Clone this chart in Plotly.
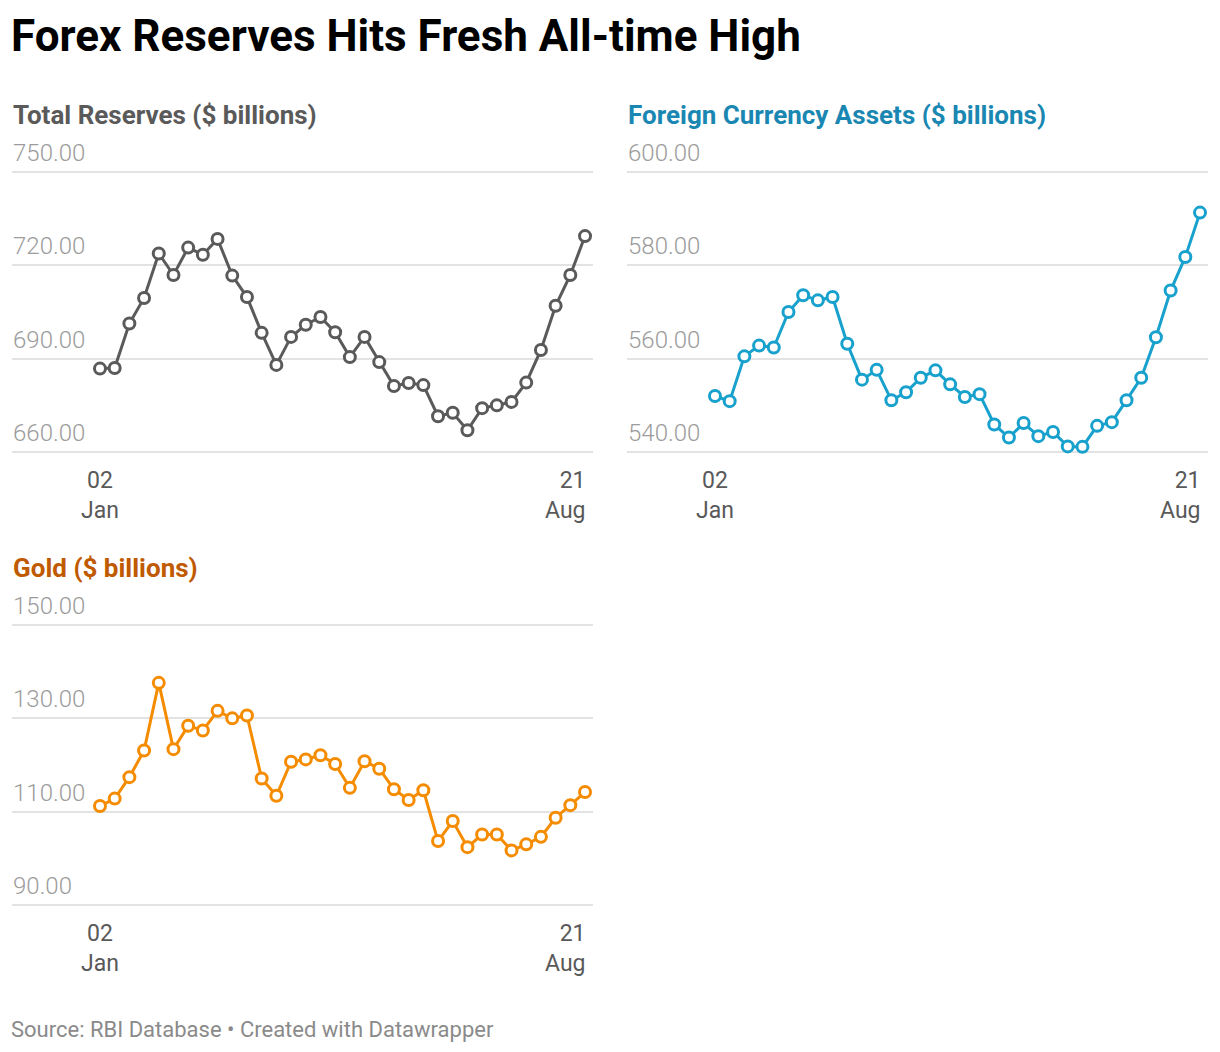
import pandas as pd
import plotly.graph_objects as go

# the page puts an 8px margin around the plot, so work in reference px and shift
OFF = 8
FW, FH = 1220 - 2 * OFF, 1052 - 2 * OFF


def px_x(p):
    return (p - OFF) / FW


def px_y(p):
    return 1 - (p - OFF) / FH


# weekly observations, 02 Jan to 21 Aug
dates = pd.date_range("2026-01-02", "2026-08-21", freq="7D")

total_reserves = [686.8, 687.0, 701.3, 709.5, 723.8, 716.9, 725.7, 723.4, 728.5, 716.7,
                  709.8, 698.3, 688.0, 697.0, 700.9, 703.4, 698.5, 690.5, 697.0, 688.9,
                  681.2, 682.2, 681.5, 671.5, 672.6, 667.0, 674.1, 675.0, 676.1, 682.3,
                  692.8, 707.0, 716.9, 729.4]
fca = [552.0, 550.9, 560.5, 562.8, 562.4, 570.0, 573.6, 572.5, 573.2, 563.2,
       555.5, 557.6, 551.1, 552.8, 555.9, 557.5, 554.5, 551.8, 552.4, 545.9,
       543.1, 546.2, 543.4, 544.3, 541.2, 541.1, 545.6, 546.4, 551.1, 555.9,
       564.6, 574.6, 581.8, 591.3]
gold = [111.2, 112.8, 117.4, 123.1, 137.6, 123.4, 128.4, 127.4, 131.6, 130.0,
        130.6, 117.1, 113.4, 120.7, 121.2, 122.1, 120.2, 115.1, 120.8, 119.2,
        114.8, 112.5, 114.6, 103.7, 108.0, 102.4, 105.1, 105.1, 101.7, 103.0,
        104.6, 108.7, 111.4, 114.2]

x_tick_labels = ["02<br>Jan", "21<br>Aug"]

# panel: title, values, y ticks, line colour, title colour, left px, top gridline px
panels = [
    ("Total Reserves ($ billions)", total_reserves, [660, 690, 720, 750], "#5a5a5a", "#5a5a5a", 12, 172),
    ("Foreign Currency Assets ($ billions)", fca, [540, 560, 580, 600], "#18a1cd", "#1a87b2", 627, 172),
    ("Gold ($ billions)", gold, [90, 110, 130, 150], "#f58c00", "#c05a00", 12, 625),
]

PW = 581      # panel width px
PH = 280      # distance top to bottom gridline px
PAD = 6       # extra px above/below gridlines

x0 = dates[0] - pd.Timedelta(days=41.9)
x1 = dates[-1] + pd.Timedelta(days=3.8)

fig = go.Figure()

for i, (title, vals, yt, lc, tc, left, top) in enumerate(panels):
    n = i + 1
    xa = "x" if n == 1 else f"x{n}"
    ya = "y" if n == 1 else f"y{n}"
    span = yt[-1] - yt[0]
    upp = span / PH
    fig.add_trace(go.Scatter(
        x=dates, y=vals, mode="lines+markers", xaxis=xa, yaxis=ya,
        line=dict(color=lc, width=3),
        marker=dict(size=11, color="white", line=dict(color=lc, width=3)),
        cliponaxis=False, showlegend=False, hoverinfo="x+y",
    ))
    bottom = top + PH
    fig.update_layout(**{
        ("xaxis" if n == 1 else f"xaxis{n}"): dict(
            domain=[px_x(left), px_x(left + PW)], range=[x0, x1],
            showgrid=False, zeroline=False, showticklabels=False, showline=False,
            anchor=ya, fixedrange=True),
        ("yaxis" if n == 1 else f"yaxis{n}"): dict(
            domain=[px_y(bottom + PAD), px_y(top - PAD)],
            range=[yt[0] - PAD * upp, yt[-1] + PAD * upp],
            tickvals=yt, showticklabels=False,
            showgrid=True, gridcolor="#e3e3e3", gridwidth=1.5,
            zeroline=False, showline=False, ticks="", anchor=xa, fixedrange=True),
    })
    # y tick labels, sitting above each gridline
    for v in yt:
        fig.add_annotation(
            text=f"{v:.2f}", xref="paper", yref=ya, x=px_x(left - 1), y=v,
            xanchor="left", yanchor="bottom", yshift=3, showarrow=False,
            font=dict(family="Roboto", size=24, color="#9c9c9c", weight=300))
    # panel title
    fig.add_annotation(
        text=f"<b>{title}</b>", xref="paper", yref="paper",
        x=px_x(left - 1), y=px_y(top - 57), xanchor="left", yanchor="middle",
        showarrow=False, font=dict(family="Roboto", size=26, color=tc))
    # x labels
    for d, lab, anc in [(dates[0], x_tick_labels[0], "center"), (dates[-1], x_tick_labels[1], "right")]:
        fig.add_annotation(
            text=lab, xref=xa, yref="paper", x=d, y=px_y(bottom + 13),
            xanchor=anc, yanchor="top", align="right" if anc == "right" else "center",
            xshift=2 if anc == "right" else 0,
            showarrow=False, font=dict(family="Roboto", size=23, color="#595959"))

fig.add_annotation(
    text="<b>Forex Reserves Hits Fresh All-time High</b>", xref="paper", yref="paper",
    x=px_x(9), y=px_y(36), xanchor="left", yanchor="middle", showarrow=False,
    font=dict(family="Roboto", size=44, color="#000000"))
fig.add_annotation(
    text="Source: RBI Database • Created with Datawrapper", xref="paper", yref="paper",
    x=px_x(9), y=px_y(1029), xanchor="left", yanchor="middle", showarrow=False,
    font=dict(family="Roboto", size=22, color="#8a8a8a"))

fig.update_layout(
    width=FW, height=FH, margin=dict(l=0, r=0, t=0, b=0),
    paper_bgcolor="white", plot_bgcolor="white",
    font=dict(family="Roboto"),
)

fig.write_html("out.html")
